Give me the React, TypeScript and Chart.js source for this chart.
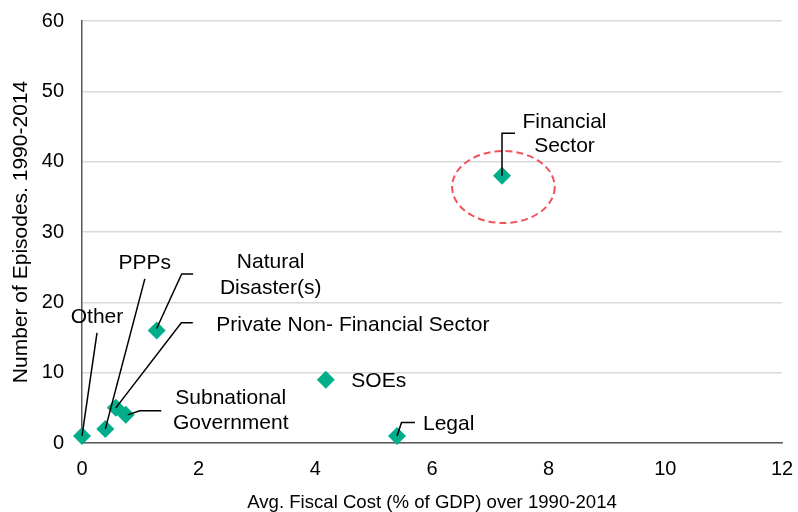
import React, { useEffect, useRef } from "react";
import { Chart, registerables } from "chart.js";

Chart.register(...registerables);

const categories = [
  "Other",
  "PPPs",
  "Private Non- Financial Sector",
  "Subnational Government",
  "Natural Disaster(s)",
  "SOEs",
  "Legal",
  "Financial Sector",
];
const fiscalCost = [0, 0.4, 0.58, 0.75, 1.28, 4.18, 5.4, 7.2];
const episodes = [1, 2, 5, 4, 16, 9, 1, 38];
const xTicks = [0, 2, 4, 6, 8, 10, 12];
const yTicks = [0, 10, 20, 30, 40, 50, 60];

const FONT = "Arial, 'Liberation Sans', sans-serif";
const TEAL = "#00AE8B";

type Callout = {
  path: [number, number][];
  lines: string[];
  dx: number;
  dy: number[];
  align: CanvasTextAlign;
};

// callout layout, offsets in pixels relative to each marker
const callouts: Record<string, Callout> = {
  Other: { path: [[0, 0], [15, -103]], lines: ["Other"], dx: 15, dy: [-119], align: "center" },
  PPPs: { path: [[0, 0], [39.5, -150]], lines: ["PPPs"], dx: 39.5, dy: [-166], align: "center" },
  "Natural Disaster(s)": {
    path: [[0, -2], [25, -56.5], [36.5, -56.5]],
    lines: ["Natural", "Disaster(s)"],
    dx: 114,
    dy: [-68, -42],
    align: "center",
  },
  "Private Non- Financial Sector": {
    path: [[0, 0], [65.5, -85], [77, -85]],
    lines: ["Private Non- Financial Sector"],
    dx: 100.5,
    dy: [-82.5],
    align: "left",
  },
  "Subnational Government": {
    path: [[2, 0], [14, -4], [35.5, -4]],
    lines: ["Subnational", "Government"],
    dx: 105,
    dy: [-16.5, 8.5],
    align: "center",
  },
  SOEs: { path: [], lines: ["SOEs"], dx: 25.5, dy: [2], align: "left" },
  Legal: { path: [[0, 0], [4.5, -13.5], [18, -13.5]], lines: ["Legal"], dx: 26, dy: [-12], align: "left" },
  "Financial Sector": {
    path: [[0, 0], [0, -42.5], [13, -42.5]],
    lines: ["Financial", "Sector"],
    dx: 62.5,
    dy: [-53.5, -29.7],
    align: "center",
  },
};

const calloutPlugin = {
  id: "callouts",
  afterDatasetsDraw(chart: any) {
    const ctx = chart.ctx as CanvasRenderingContext2D;
    const xs = chart.scales.x;
    const ys = chart.scales.y;
    ctx.save();
    // dashed ellipse around Financial Sector
    const fi = categories.indexOf("Financial Sector");
    const fx = xs.getPixelForValue(fiscalCost[fi]);
    const fy = ys.getPixelForValue(episodes[fi]);
    ctx.beginPath();
    ctx.setLineDash([7, 4]);
    ctx.strokeStyle = "#F0545A";
    ctx.lineWidth = 2;
    ctx.ellipse(fx + 1.4, fy + 11.3, 51.3, 36, 0, 0, Math.PI * 2);
    ctx.stroke();
    ctx.setLineDash([]);

    ctx.strokeStyle = "#000";
    ctx.lineWidth = 1.5;
    ctx.fillStyle = "#000";
    ctx.font = `21px ${FONT}`;
    ctx.textBaseline = "middle";
    categories.forEach((name, i) => {
      const c = callouts[name];
      if (!c) return;
      const px = xs.getPixelForValue(fiscalCost[i]);
      const py = ys.getPixelForValue(episodes[i]);
      if (c.path.length > 1) {
        ctx.beginPath();
        c.path.forEach(([dx, dy], k) => {
          if (k === 0) ctx.moveTo(px + dx, py + dy);
          else ctx.lineTo(px + dx, py + dy);
        });
        ctx.stroke();
      }
      ctx.textAlign = c.align;
      c.lines.forEach((t, k) => ctx.fillText(t, px + c.dx, py + c.dy[k]));
    });
    ctx.restore();
  },
};

export default function App() {
  const ref = useRef<HTMLCanvasElement>(null);
  useEffect(() => {
    if (!ref.current) return;
    const chart = new Chart(ref.current, {
      type: "scatter",
      data: {
        datasets: [
          {
            label: "Episodes",
            data: fiscalCost.map((x, i) => ({ x, y: episodes[i] })),
            pointStyle: "rectRot",
            pointRadius: 9,
            pointHoverRadius: 9,
            backgroundColor: TEAL,
            borderColor: TEAL,
            borderWidth: 0,
            clip: false,
          },
        ],
      },
      options: {
        responsive: false,
        animation: false,
        events: [],
        layout: { padding: { top: 21, right: 16, left: 0, bottom: 0 } },
        plugins: { legend: { display: false }, tooltip: { enabled: false } },
        scales: {
          x: {
            type: "linear",
            min: 0,
            max: 12,
            afterBuildTicks: (s: any) => {
              s.ticks = xTicks.map((v) => ({ value: v }));
            },
            afterFit: (s: any) => {
              s.height = 69;
              s.paddingLeft = 0;
              s.paddingRight = 0;
            },
            ticks: { font: { size: 20, family: FONT }, color: "#000", padding: 14 },
            grid: { display: false, drawTicks: false },
            border: { display: true, color: "#595959", width: 1.5 },
            title: {
              display: true,
              text: "Avg. Fiscal Cost (% of GDP) over 1990-2014",
              font: { size: 18.6, family: FONT },
              color: "#000",
              padding: { top: 0, bottom: -2 },
            },
          },
          y: {
            type: "linear",
            min: 0,
            max: 60,
            afterBuildTicks: (s: any) => {
              s.ticks = yTicks.map((v) => ({ value: v }));
            },
            afterFit: (s: any) => {
              s.width = 82;
              s.paddingTop = 0;
              s.paddingBottom = 0;
            },
            ticks: { font: { size: 20, family: FONT }, color: "#000", padding: 18 },
            grid: { color: "#D9D9D9", lineWidth: 1.5, drawTicks: false },
            border: { display: true, color: "#595959", width: 1.5 },
            title: {
              display: true,
              text: "Number of Episodes. 1990-2014",
              font: { size: 21, family: FONT },
              color: "#000",
              padding: { top: 9, bottom: 0 },
            },
          },
        },
      },
      plugins: [calloutPlugin],
    });
    return () => chart.destroy();
  }, []);
  return (
    <div style={{ position: "absolute", left: 0, top: 0, width: 798, height: 512, background: "#fff" }}>
      <canvas ref={ref} width={798} height={512} />
    </div>
  );
}
